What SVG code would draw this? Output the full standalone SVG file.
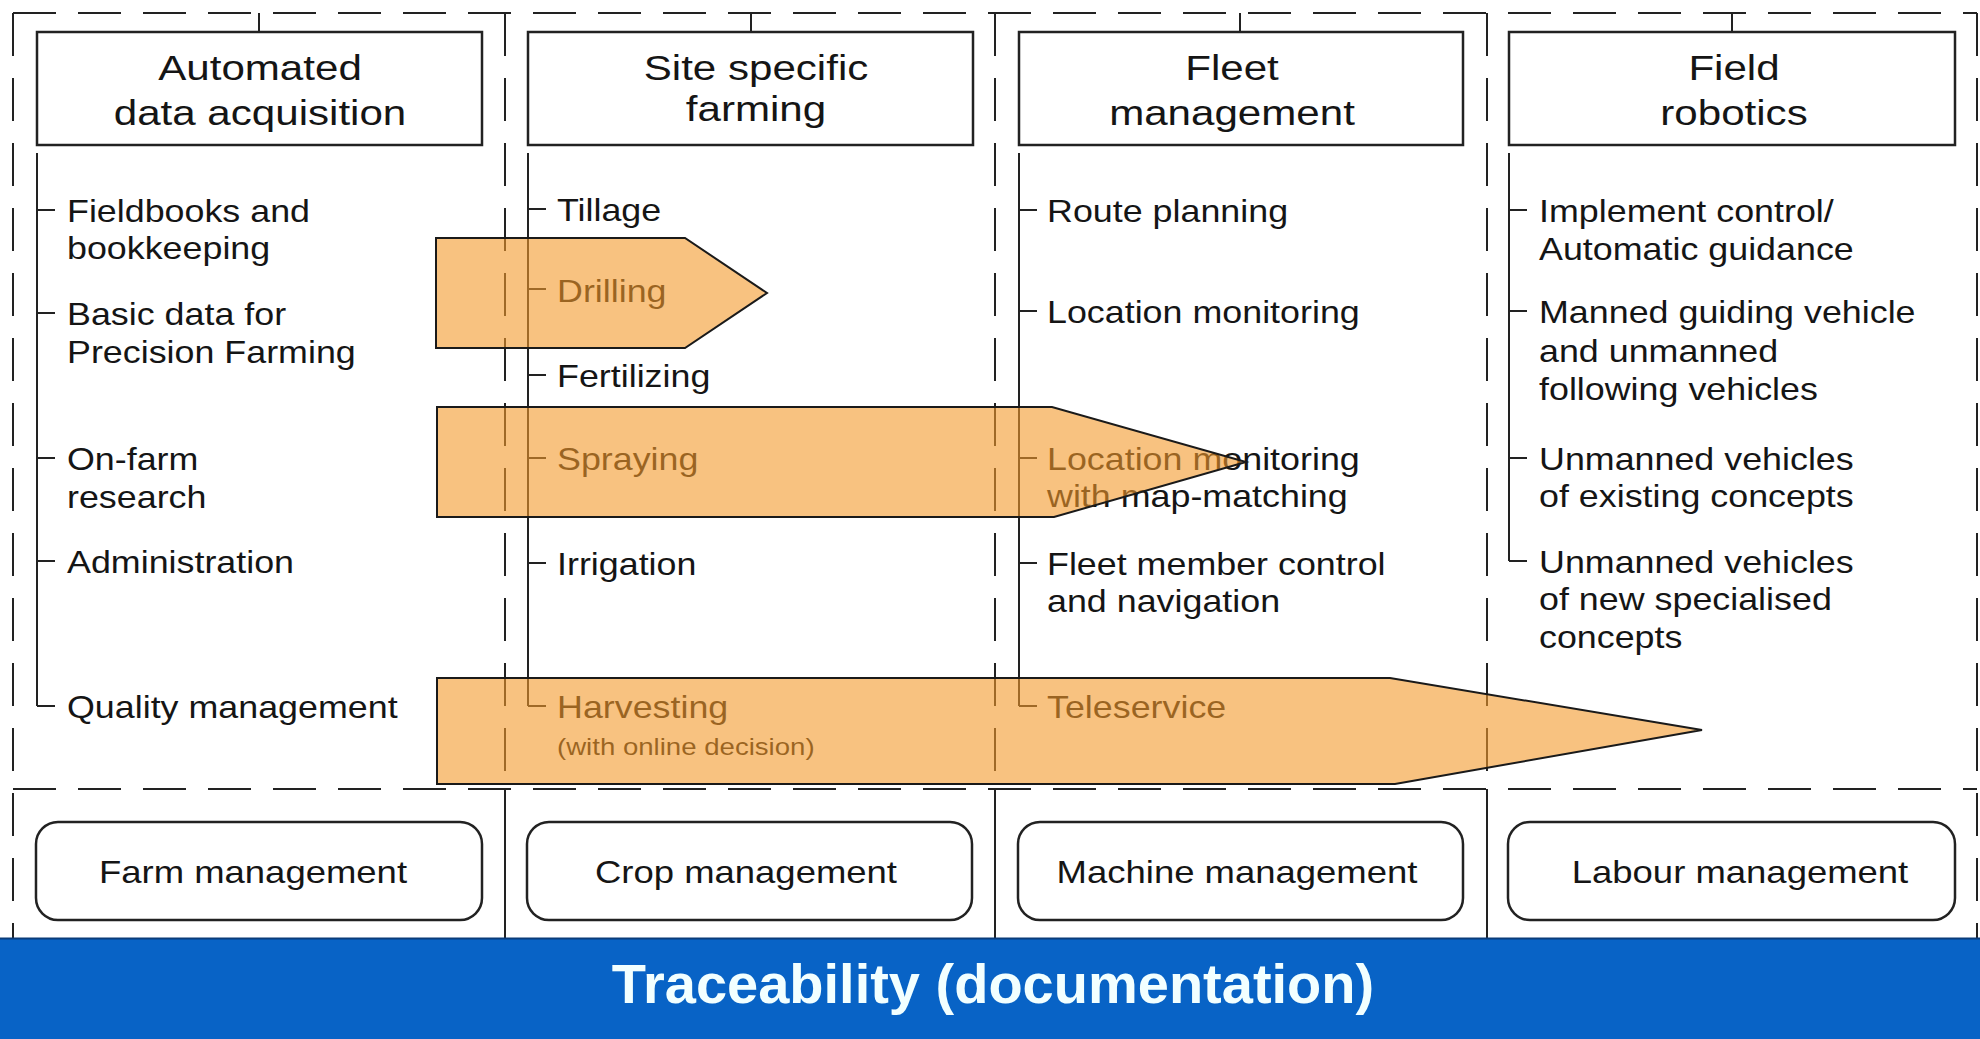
<svg xmlns="http://www.w3.org/2000/svg" width="1980" height="1039" viewBox="0 0 1980 1039">
<defs>
<style>
.t{font-family:"Liberation Sans",Arial,Helvetica,sans-serif;fill:#151515;}
.item{font-size:32px;}
.sub{font-size:23px;}
.title{font-size:36px;text-anchor:middle;}
.lbl{font-size:32px;text-anchor:middle;}
.box{fill:#fff;stroke:#222;stroke-width:2.5;}
.rbox{fill:#fff;stroke:#222;stroke-width:2.5;}
.dash{stroke:#222;stroke-width:2;stroke-dasharray:43 22;fill:none;}
.solid{stroke:#222;stroke-width:2;fill:none;}
.tree{stroke:#222;stroke-width:2;fill:none;}
.arrow{fill:#f39a2c;fill-opacity:0.6;stroke:#1a1a1a;stroke-width:2;}
.band{fill:#0863c6;}
.bandtxt{font-family:"Liberation Sans",Arial,Helvetica,sans-serif;font-weight:bold;font-size:56px;fill:#f2ffff;text-anchor:middle;}
</style>
</defs>
<rect width="1980" height="1039" fill="#fff"/>

<g id="frame">
<line class="dash" x1="13" y1="13" x2="1977" y2="13"/>
<line class="dash" x1="13" y1="13" x2="13" y2="938"/>
<line class="dash" x1="1977" y1="13" x2="1977" y2="938"/>
<line class="dash" x1="13" y1="789" x2="1977" y2="789"/>
<line class="dash" x1="505" y1="13" x2="505" y2="789"/>
<line class="dash" x1="995" y1="13" x2="995" y2="789"/>
<line class="dash" x1="1487" y1="13" x2="1487" y2="789"/>
<line class="solid" x1="505" y1="789" x2="505" y2="938"/>
<line class="solid" x1="995" y1="789" x2="995" y2="938"/>
<line class="solid" x1="1487" y1="789" x2="1487" y2="938"/>
</g>

<g id="connectors">
<line class="solid" x1="259" y1="13" x2="259" y2="32"/>
<line class="solid" x1="751" y1="13" x2="751" y2="32"/>
<line class="solid" x1="1240" y1="13" x2="1240" y2="32"/>
<line class="solid" x1="1732" y1="13" x2="1732" y2="32"/>
<path class="tree" d="M37 153V706M37 210H55M37 313H55M37 458H55M37 561H55M37 706H55"/>
<path class="tree" d="M528 153V706M528 209H546M528 289H546M528 375H546M528 458H546M528 563H546M528 706H546"/>
<path class="tree" d="M1019 153V706M1019 210H1037M1019 311H1037M1019 458H1037M1019 563H1037M1019 706H1037"/>
<path class="tree" d="M1509 153V561M1509 210H1527M1509 311H1527M1509 458H1527M1509 561H1527"/>
</g>

<g id="col-automated">
<rect class="box" x="37" y="32" width="445" height="113"/>
<text class="t title" transform="translate(260 80) scale(1.17 1)"><tspan x="0" y="0">Automated</tspan><tspan x="0" y="45">data acquisition</tspan></text>
</g>
<g id="col-site">
<rect class="box" x="528" y="32" width="445" height="113"/>
<text class="t title" transform="translate(756 80) scale(1.17 1)"><tspan x="0" y="0">Site specific</tspan><tspan x="0" y="41">farming</tspan></text>
</g>
<g id="col-fleet">
<rect class="box" x="1019" y="32" width="444" height="113"/>
<text class="t title" transform="translate(1232 80) scale(1.17 1)"><tspan x="0" y="0">Fleet</tspan><tspan x="0" y="45">management</tspan></text>
</g>
<g id="col-robotics">
<rect class="box" x="1509" y="32" width="446" height="113"/>
<text class="t title" transform="translate(1734 80) scale(1.17 1)"><tspan x="0" y="0">Field</tspan><tspan x="0" y="45">robotics</tspan></text>
</g>

<g id="items-col1">
<text class="t item" transform="translate(67 222) scale(1.12 1)"><tspan x="0" y="0">Fieldbooks and</tspan><tspan x="0" y="37">bookkeeping</tspan></text>
<text class="t item" transform="translate(67 325) scale(1.12 1)"><tspan x="0" y="0">Basic data for</tspan><tspan x="0" y="38">Precision Farming</tspan></text>
<text class="t item" transform="translate(67 470) scale(1.12 1)"><tspan x="0" y="0">On-farm</tspan><tspan x="0" y="38">research</tspan></text>
<text class="t item" transform="translate(67 573) scale(1.12 1)">Administration</text>
<text class="t item" transform="translate(67 718) scale(1.12 1)">Quality management</text>
</g>
<g id="items-col2">
<text class="t item" transform="translate(557 221) scale(1.12 1)">Tillage</text>
<text class="t item" transform="translate(557 302) scale(1.12 1)">Drilling</text>
<text class="t item" transform="translate(557 387) scale(1.12 1)">Fertilizing</text>
<text class="t item" transform="translate(557 470) scale(1.12 1)">Spraying</text>
<text class="t item" transform="translate(557 575) scale(1.12 1)">Irrigation</text>
<text class="t item" transform="translate(557 718) scale(1.12 1)">Harvesting</text>
<text class="t sub" transform="translate(557 755) scale(1.2 1)">(with online decision)</text>
</g>
<g id="items-col3">
<text class="t item" transform="translate(1047 222) scale(1.12 1)">Route planning</text>
<text class="t item" transform="translate(1047 323) scale(1.12 1)">Location monitoring</text>
<text class="t item" transform="translate(1047 470) scale(1.12 1)"><tspan x="0" y="0">Location monitoring</tspan><tspan x="0" y="37">with map-matching</tspan></text>
<text class="t item" transform="translate(1047 575) scale(1.12 1)"><tspan x="0" y="0">Fleet member control</tspan><tspan x="0" y="37">and navigation</tspan></text>
<text class="t item" transform="translate(1047 718) scale(1.12 1)">Teleservice</text>
</g>
<g id="items-col4">
<text class="t item" transform="translate(1539 222) scale(1.12 1)"><tspan x="0" y="0">Implement control/</tspan><tspan x="0" y="38">Automatic guidance</tspan></text>
<text class="t item" transform="translate(1539 323) scale(1.12 1)"><tspan x="0" y="0">Manned guiding vehicle</tspan><tspan x="0" y="39">and unmanned</tspan><tspan x="0" y="77">following vehicles</tspan></text>
<text class="t item" transform="translate(1539 470) scale(1.12 1)"><tspan x="0" y="0">Unmanned vehicles</tspan><tspan x="0" y="37">of existing concepts</tspan></text>
<text class="t item" transform="translate(1539 573) scale(1.12 1)"><tspan x="0" y="0">Unmanned vehicles</tspan><tspan x="0" y="37">of new specialised</tspan><tspan x="0" y="75">concepts</tspan></text>
</g>

<g id="arrows">
<polygon id="arrow-drilling" class="arrow" points="436,238 685,238 767,293 685,348 436,348"/>
<polygon id="arrow-spraying" class="arrow" points="437,407 1052,407 1246,462 1054,517 437,517"/>
<polygon id="arrow-harvesting" class="arrow" points="437,678 1390,678 1702,730 1395,784 437,784"/>
</g>

<g id="mgmt-farm">
<rect class="rbox" x="36" y="822" width="446" height="98" rx="22"/>
<text class="t lbl" transform="translate(253 883) scale(1.14 1)">Farm management</text>
</g>
<g id="mgmt-crop">
<rect class="rbox" x="527" y="822" width="445" height="98" rx="22"/>
<text class="t lbl" transform="translate(746 883) scale(1.14 1)">Crop management</text>
</g>
<g id="mgmt-machine">
<rect class="rbox" x="1018" y="822" width="445" height="98" rx="22"/>
<text class="t lbl" transform="translate(1237 883) scale(1.14 1)">Machine management</text>
</g>
<g id="mgmt-labour">
<rect class="rbox" x="1508" y="822" width="447" height="98" rx="22"/>
<text class="t lbl" transform="translate(1740 883) scale(1.14 1)">Labour management</text>
</g>

<g id="traceability">
<rect class="band" x="0" y="938" width="1980" height="101"/>
<line x1="0" y1="938.5" x2="1980" y2="938.5" stroke="#0b3c7a" stroke-width="2"/>
<text class="bandtxt" x="993" y="1003">Traceability (documentation)</text>
</g>
</svg>
